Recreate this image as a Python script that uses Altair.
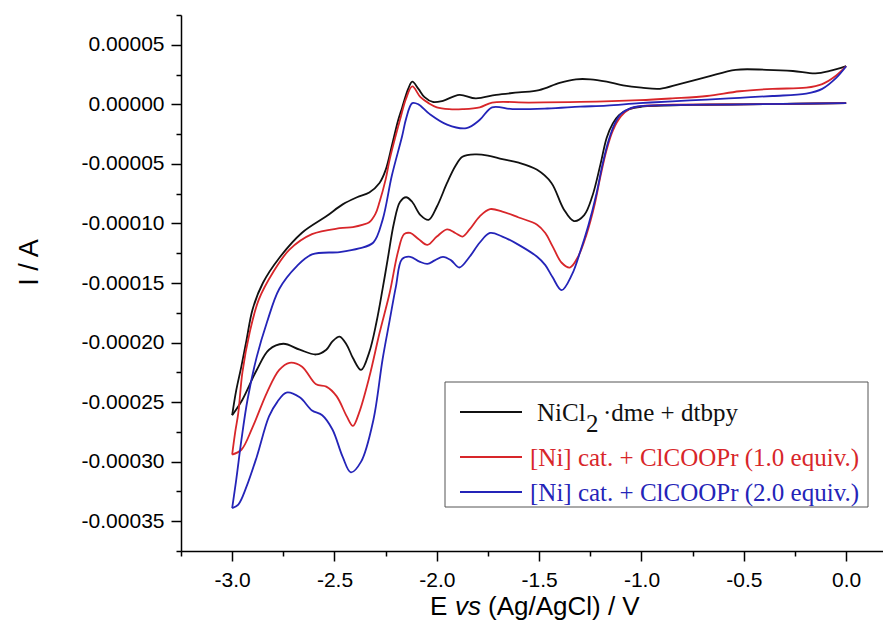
import altair as alt
import pandas as pd

# ---- data (E in V, I in units of 1e-5 A) ----
black_fwd_E = [0.0, -0.25, -0.5, -0.75, -1.0, -1.06, -1.11, -1.14, -1.17, -1.20, -1.24, -1.28, -1.33, -1.38, -1.44,
               -1.51, -1.60, -1.68, -1.75, -1.81, -1.875, -1.91, -1.95, -2.0, -2.04, -2.08, -2.12, -2.15, -2.18,
               -2.21, -2.24, -2.265, -2.295, -2.33, -2.37, -2.41, -2.44, -2.475, -2.51, -2.54, -2.59, -2.67, -2.75,
               -2.82, -2.88, -2.95, -3.0]
black_fwd_I = [0.1, 0.05, 0.0, -0.05, -0.2, -0.4, -0.9, -1.6, -2.8, -5.0, -7.7, -9.3, -9.8, -8.8, -6.6,
               -5.5, -4.9, -4.6, -4.3, -4.2, -4.4, -5.2, -6.6, -8.6, -9.7, -9.3, -8.2, -7.8, -8.2,
               -10.0, -13.0, -15.5, -18.3, -20.8, -22.3, -21.3, -20.2, -19.5, -19.9, -20.6, -21.0, -20.6, -20.1,
               -20.6, -22.3, -24.8, -26.1]
black_rev_E = [-3.0, -2.98, -2.955, -2.93, -2.90, -2.85, -2.77, -2.66, -2.54, -2.46, -2.39, -2.33, -2.28, -2.25,
               -2.22, -2.19, -2.17, -2.14, -2.12, -2.09, -2.06, -2.02, -1.97, -1.89, -1.81, -1.71, -1.60, -1.50,
               -1.40, -1.32, -1.25, -1.17, -1.09, -1.0, -0.91, -0.815, -0.68, -0.54, -0.39, -0.26, -0.15, -0.08, 0.0]
black_rev_I = [-26.1, -24.0, -22.0, -19.8, -17.2, -15.0, -12.9, -10.8, -9.4, -8.4, -7.8, -7.4, -6.6, -5.5,
               -3.5, -1.4, -0.3, 1.3, 1.9, 1.3, 0.6, 0.2, 0.3, 0.8, 0.5, 0.8, 1.0, 1.2,
               1.8, 2.1, 2.1, 1.9, 1.6, 1.4, 1.3, 1.7, 2.3, 2.9, 2.9, 2.8, 2.6, 2.8, 3.2]

red_fwd_E = [0.0, -0.5, -1.0, -1.06, -1.10, -1.14, -1.17, -1.20, -1.23, -1.27, -1.31, -1.35, -1.39, -1.435, -1.47,
             -1.51, -1.60, -1.68, -1.74, -1.79, -1.84, -1.875, -1.91, -1.95, -2.0, -2.046, -2.09, -2.13, -2.16,
             -2.19, -2.23, -2.28, -2.33, -2.38, -2.41, -2.44, -2.49, -2.54, -2.59, -2.66, -2.72, -2.77, -2.83,
             -2.90, -2.955, -3.0]
red_fwd_I = [0.1, 0.0, -0.15, -0.4, -1.0, -2.2, -3.8, -6.0, -8.5, -11.0, -12.8, -13.7, -13.3, -11.9, -10.8,
             -10.1, -9.5, -9.0, -8.8, -9.4, -10.5, -11.1, -10.8, -10.5, -11.1, -11.8, -11.3, -10.8, -10.9,
             -12.4, -15.8, -19.2, -22.9, -25.9, -27.0, -26.2, -24.5, -23.7, -23.5, -22.0, -21.7, -22.3, -24.2,
             -27.1, -29.0, -29.4]
red_rev_E = [-3.0, -2.985, -2.97, -2.95, -2.915, -2.87, -2.80, -2.72, -2.61, -2.475, -2.41, -2.36, -2.33, -2.30,
             -2.28, -2.25, -2.23, -2.18, -2.15, -2.12, -2.08, -2.04, -2.0, -1.94, -1.875, -1.79, -1.73, -1.55,
             -1.30, -1.01, -0.85, -0.68, -0.52, -0.36, -0.195, -0.117, -0.05, 0.0]
red_rev_I = [-29.4, -27.5, -25.9, -22.5, -19.2, -16.4, -14.1, -12.2, -10.9, -10.4, -10.3, -10.1, -9.9, -9.2,
             -8.2, -6.3, -4.6, -1.3, 0.5, 1.5, 0.6, 0.1, -0.25, -0.4, -0.4, -0.25, 0.15, 0.15,
             0.2, 0.35, 0.5, 0.7, 1.1, 1.3, 1.4, 1.7, 2.4, 3.2]

blue_fwd_E = [0.0, -0.5, -1.0, -1.05, -1.10, -1.13, -1.16, -1.19, -1.22, -1.26, -1.30, -1.34, -1.39, -1.435, -1.47,
              -1.51, -1.60, -1.68, -1.74, -1.79, -1.84, -1.89, -1.93, -1.97, -2.01, -2.046, -2.085, -2.13, -2.17,
              -2.20, -2.23, -2.265, -2.31, -2.37, -2.42, -2.46, -2.51, -2.56, -2.61, -2.67, -2.735, -2.78, -2.82,
              -2.88, -2.93, -2.97, -3.0]
blue_fwd_I = [0.1, 0.0, -0.15, -0.3, -0.8, -1.6, -3.0, -5.0, -7.5, -10.2, -12.4, -14.3, -15.6, -14.5, -13.5,
              -12.8, -11.8, -11.1, -10.8, -11.6, -12.8, -13.7, -13.1, -12.8, -13.1, -13.4, -13.2, -12.8, -13.0,
              -15.3, -18.1, -21.4, -26.5, -30.0, -30.9, -29.6, -27.3, -26.1, -25.7, -24.6, -24.2, -25.0, -26.2,
              -29.6, -32.1, -33.6, -33.9]
blue_rev_E = [-3.0, -2.98, -2.955, -2.925, -2.88, -2.83, -2.77, -2.685, -2.61, -2.475, -2.38, -2.31, -2.265, -2.22,
              -2.17, -2.15, -2.12, -2.09, -2.036, -1.95, -1.855, -1.79, -1.73, -1.63, -1.46, -1.30, -1.17, -1.01,
              -0.85, -0.68, -0.52, -0.36, -0.195, -0.117, -0.05, 0.0]
blue_rev_I = [-33.9, -31.5, -28.2, -24.8, -21.2, -18.3, -15.5, -13.6, -12.6, -12.4, -12.1, -11.6, -9.7, -6.0,
              -2.7, -1.2, 0.1, 0.0, -0.8, -1.7, -2.0, -1.3, -0.25, -0.4, -0.35, -0.2, -0.1, 0.1,
              0.25, 0.4, 0.55, 0.7, 0.9, 1.3, 2.2, 3.2]

series_names = ["NiCl2 ·dme + dtbpy",
                "[Ni] cat. + ClCOOPr (1.0 equiv.)",
                "[Ni] cat. + ClCOOPr (2.0 equiv.)"]
series_colors = ["#111111", "#d8262a", "#2424b8"]

x_ticks = [-3.25, -3.0, -2.75, -2.5, -2.25, -2.0, -1.75, -1.5, -1.25, -1.0, -0.75, -0.5, -0.25, 0.0]
y_ticks = [-0.000375, -0.00035, -0.000325, -0.0003, -0.000275, -0.00025, -0.000225, -0.0002, -0.000175,
           -0.00015, -0.000125, -0.0001, -0.000075, -0.00005, -0.000025, 0.0, 0.000025, 0.00005, 0.000075]


def seg(name, part, E, I):
    return pd.DataFrame({
        "E": E,
        "I": [v * 1e-5 for v in I],
        "series": name,
        "seg": name + part,
        "idx": list(range(len(E))),
    })


df = pd.concat([
    seg(series_names[0], "f", black_fwd_E, black_fwd_I),
    seg(series_names[0], "r", black_rev_E, black_rev_I),
    seg(series_names[1], "f", red_fwd_E, red_fwd_I),
    seg(series_names[1], "r", red_rev_E, red_rev_I),
    seg(series_names[2], "f", blue_fwd_E, blue_fwd_I),
    seg(series_names[2], "r", blue_rev_E, blue_rev_I),
], ignore_index=True)

x_major = "abs(datum.value*2 - round(datum.value*2)) < 0.001"
y_major = "abs(datum.value*20000 - round(datum.value*20000)) < 0.001"

x_axis = alt.Axis(
    values=x_ticks, title=None, grid=False,
    labelExpr=f"{x_major} ? replace(format(datum.value, '.1f'), '\u2212', '-') : ''",
    tickSize={"condition": {"test": x_major, "value": 10}, "value": 5},
    labelPadding=8, labelOverlap=False, labelFlush=False, labelBound=False,
)
y_axis = alt.Axis(
    values=y_ticks, title="I / A", grid=False,
    labelExpr=f"{y_major} ? replace(format(datum.value, '.5f'), '\u2212', '-') : ''",
    tickSize={"condition": {"test": y_major, "value": 10}, "value": 5},
    labelPadding=7, labelOverlap=False, labelFlush=False, labelBound=False,
    titleFont="Liberation Sans", titleFontSize=27, titleFontWeight="normal", titleColor="black",
    titleAngle=270, titleX=-152, titleY=247, titleAlign="center", titleBaseline="middle",
)

lines = alt.Chart(df).mark_line(strokeWidth=1.8, interpolate="catmull-rom").encode(
    x=alt.X("E:Q", scale=alt.Scale(domain=[-3.25, 0.18], nice=False, zero=False), axis=x_axis),
    y=alt.Y("I:Q", scale=alt.Scale(domain=[-0.000375, 0.000075], nice=False, zero=False), axis=y_axis),
    color=alt.Color("series:N", scale=alt.Scale(domain=series_names, range=series_colors), legend=None),
    detail="seg:N",
    order="idx:Q",
)

one = pd.DataFrame({"a": [0]})

# legend box
box = alt.Chart(one).mark_rect(fill="white", stroke="#555555", strokeWidth=1).encode(
    x=alt.value(264), x2=alt.value(687), y=alt.value(367), y2=alt.value(492))

legend_y = [397, 442, 477]
legend_layers = []
for i, col in enumerate(series_colors):
    legend_layers.append(
        alt.Chart(one).mark_rule(color=col, strokeWidth=1.8).encode(
            x=alt.value(279), x2=alt.value(341), y=alt.value(legend_y[i])))

serif = dict(font="Liberation Serif", fontSize=25, align="left", baseline="alphabetic")
legend_layers += [
    alt.Chart(one).mark_text(text="NiCl", color=series_colors[0], **serif).encode(
        x=alt.value(356), y=alt.value(406)),
    alt.Chart(one).mark_text(text="2", color=series_colors[0], **serif).encode(
        x=alt.value(405), y=alt.value(417)),
    alt.Chart(one).mark_text(text="\u00b7dme + dtbpy", color=series_colors[0], **serif).encode(
        x=alt.value(422), y=alt.value(406)),
    alt.Chart(one).mark_text(text=series_names[1], color=series_colors[1], **serif).encode(
        x=alt.value(349), y=alt.value(451)),
    alt.Chart(one).mark_text(text=series_names[2], color=series_colors[2], **serif).encode(
        x=alt.value(349), y=alt.value(486)),
]

# x-axis title with italic "vs"
sans = dict(font="Liberation Sans", fontSize=26, align="left", baseline="alphabetic", color="black")
xtitle = [
    alt.Chart(one).mark_text(text="E", **sans).encode(x=alt.value(249), y=alt.value(600)),
    alt.Chart(one).mark_text(text="vs", fontStyle="italic", **sans).encode(x=alt.value(274), y=alt.value(600)),
    alt.Chart(one).mark_text(text="(Ag/AgCl) / V", **sans).encode(x=alt.value(307), y=alt.value(600)),
]

chart = alt.layer(lines, box, *legend_layers, *xtitle).properties(
    width=702, height=536,
    autosize=alt.AutoSizeParams(type="none"),
    padding={"left": 173, "top": 7, "right": 0, "bottom": 70},
).configure_view(stroke=None).configure_axis(
    domainColor="black", domainWidth=1.5, tickColor="black", tickWidth=1.5,
    labelFont="Liberation Sans", labelFontSize=21, labelColor="black",
)

chart.save("out.html", embed_options={"renderer": "svg", "actions": False})
